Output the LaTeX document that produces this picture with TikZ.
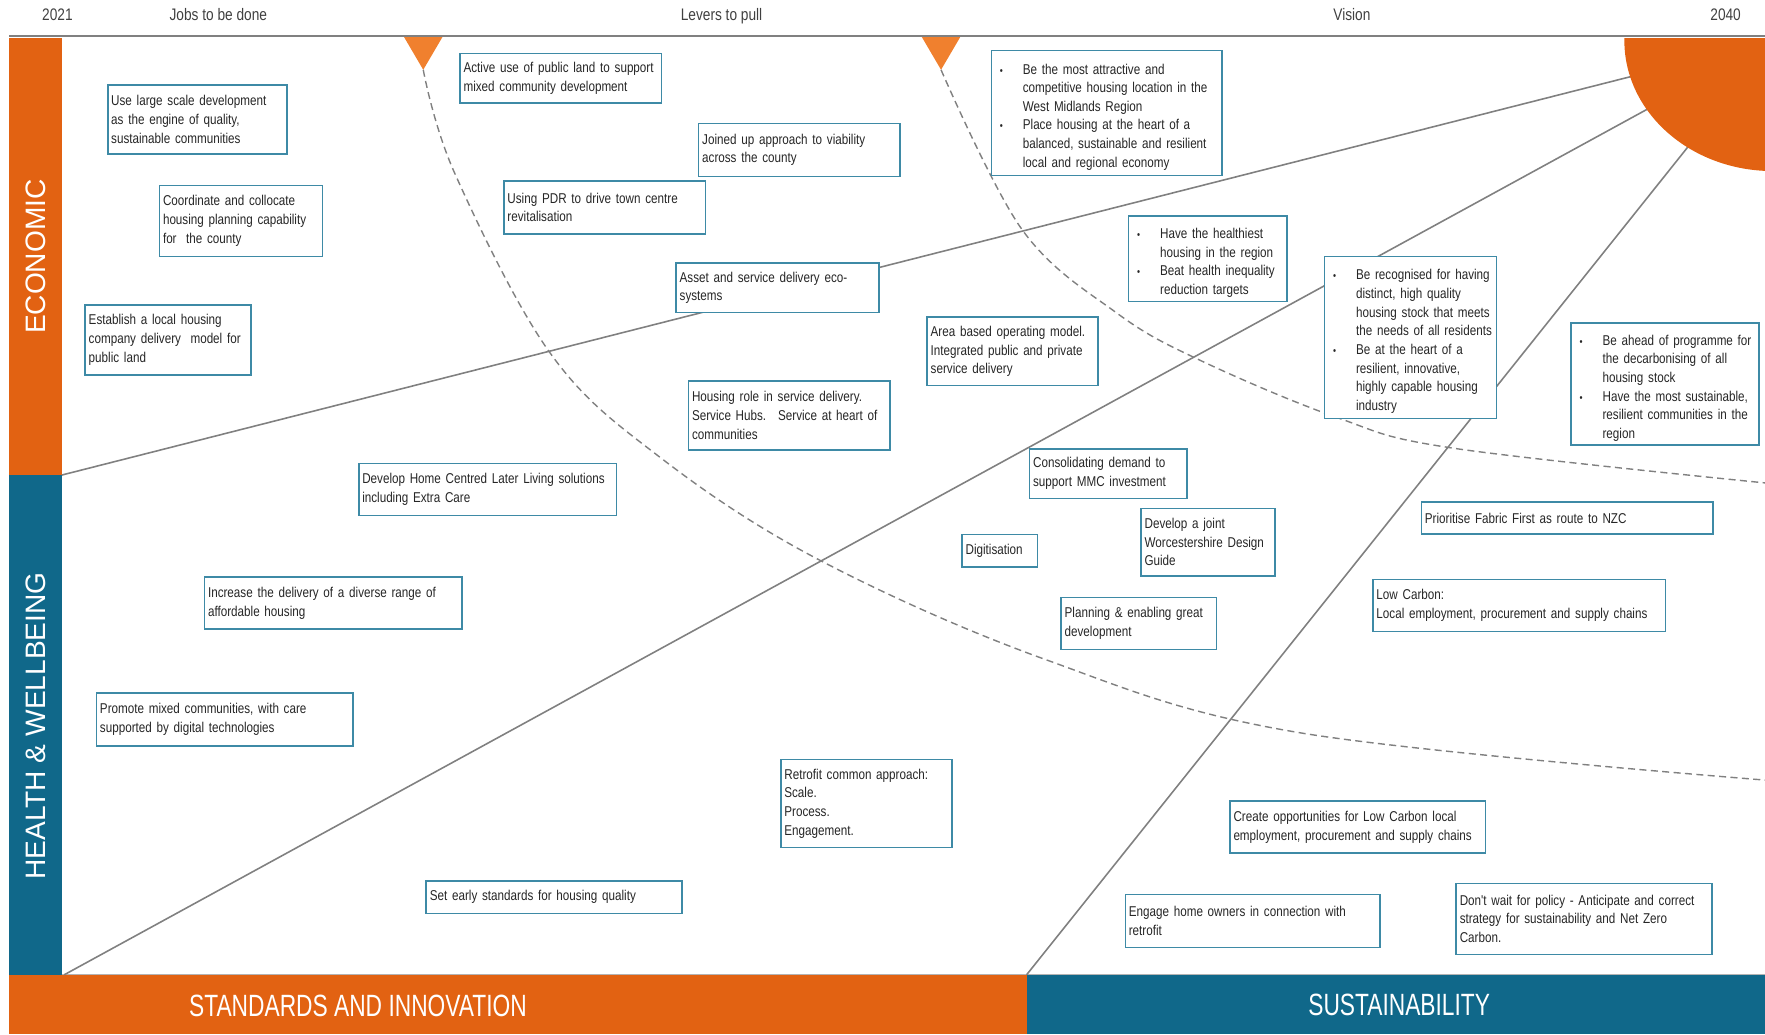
\documentclass[tikz,border=0pt]{standalone}
\usepackage{fontspec}
\setmainfont{Liberation Sans}
\newfontfamily\narrowfont{Liberation Sans}[FakeStretch=0.82]
\newfontfamily\condfont{Liberation Sans}[FakeStretch=0.74]
\usepackage{xcolor}
\usepackage{tikz}

\definecolor{wcorange}{RGB}{226,98,18}
\definecolor{wclight}{RGB}{240,128,46}
\definecolor{wcblue}{RGB}{16,104,138}
\definecolor{boxedge}{RGB}{62,138,166}
\definecolor{rayline}{RGB}{128,128,128}

% no hyphenation in the boxes
\hyphenpenalty=10000
\exhyphenpenalty=10000
\hbadness=10000
\hfuzz=6pt

% bulleted entry for the vision boxes
\newcommand{\vpoint}[1]{\par\noindent\hangindent=0.56cm\hangafter=1%
  \makebox[0.56cm][l]{\hspace{0.1cm}{\fontsize{6}{6}\selectfont\textbullet}}#1\par}

\begin{document}
\begin{tikzpicture}[x=0.0225cm, y=-0.0225cm,
    idea/.style={rectangle, draw=boxedge, line width=0.9pt, fill=white, anchor=north west,
                 align=left, inner xsep=0.07cm, inner ysep=0.05cm, text=black!85,
                 font=\narrowfont\fontsize{8.1}{10.6}\selectfont},
    ray/.style={draw=rayline, line width=0.9pt},
    horizon/.style={draw=rayline, line width=0.8pt, dash pattern=on 4pt off 2.5pt},
    phase/.style={anchor=base, font=\narrowfont\fontsize{9.5}{11}\selectfont, text=black!75},
    theme/.style={text=white, font=\fontsize{16}{16}\selectfont, rotate=90},
    pillar/.style={text=white, font=\condfont\fontsize{17.5}{18}\selectfont}]

\useasboundingbox (0,0) rectangle (1568,919);

% Timeline heading
\node[phase] (start) at (51,18) {2021};
\node[phase] (jobs) at (194,18) {Jobs to be done};
\node[phase] (levers) at (641,18) {Levers to pull};
\node[phase] (vision) at (1201,18) {Vision};
\node[phase] (finish) at (1533,18) {2040};
\draw[rayline, line width=1.1pt] (8,32) -- (1568,32);

% Side and bottom bands
\fill[wcorange] (8,34) rectangle (55,422);
\fill[wcblue] (8,422) rectangle (55,866);
\fill[wcorange] (8,866) rectangle (912,919);
\fill[wcblue] (912,866) rectangle (1568,919);
\draw[rayline!60, line width=0.5pt] (55,866) -- (1568,866);
\node[theme] (economic) at (32,228) {ECONOMIC};
\node[theme] (health) at (32,645) {HEALTH \& WELLBEING};
\node[pillar] (standards) at (318,894) {STANDARDS AND INNOVATION};
\node[pillar] (sustain) at (1243,893) {SUSTAINABILITY};

% Rays out of the 2040 sun
\coordinate (sun) at (1575,36);
\coordinate (econfoot) at (55,422);
\coordinate (healthfoot) at (57,866);
\coordinate (pillarfoot) at (912,866);
\draw[ray] (sun) -- (econfoot);
\draw[ray] (sun) -- (healthfoot);
\draw[ray] (sun) -- (pillarfoot);

\begin{scope}
  \clip (55,34) rectangle (1568,919);
  \fill[wcorange] (sun) ellipse [x radius=2.97cm, y radius=2.61cm];
\end{scope}

% Markers and horizons
\fill[wclight] (359,33) -- (393,33) -- (376,62) -- cycle;
\fill[wclight] (819,33) -- (853,33) -- (836,62) -- cycle;
\coordinate (tipa) at (376,62);
\coordinate (tipb) at (836,62);
\coordinate (edgea) at (1568,693);
\coordinate (edgeb) at (1568,429);
\draw[horizon] plot[smooth, tension=0.6] coordinates {(tipa) (404,154) (489,314) (586,406) (727,497) (929,586) (1155,651) (edgea)};
\draw[horizon] plot[smooth, tension=0.6] coordinates {(tipb) (908,204) (992,278) (1066,320) (1188,371) (1290,398) (edgeb)};

% Jobs to be done
\node[idea, text width=3.44cm, minimum height=1.37cm] (largescale) at (95,75) {Use large scale development\\as the engine of quality,\\sustainable communities};
\node[idea, text width=3.12cm, minimum height=1.42cm] (collocate) at (141,164) {Coordinate and collocate\\housing planning capability\\for~ the county};
\node[idea, text width=3.17cm, minimum height=1.40cm] (housingco) at (75,270) {Establish a local housing\\company delivery~ model for\\public land};
\node[idea, text width=5.01cm, minimum height=1.04cm] (laterliving) at (318,411) {Develop Home Centred Later Living solutions\\including Extra Care};
\node[idea, text width=5.01cm, minimum height=1.04cm] (affordable) at (181,512) {Increase the delivery of a diverse range of\\affordable housing};
\node[idea, text width=4.99cm, minimum height=1.06cm] (mixedcomm) at (85,615) {Promote mixed communities, with care\\supported by digital technologies};
\node[idea, text width=4.97cm, minimum height=0.65cm] (earlystd) at (378,782) {Set early standards for housing quality};

% Levers to pull
\node[idea, text width=3.89cm, minimum height=0.99cm] (publicland) at (408,47) {Active use of public land to support\\mixed community development};
\node[idea, text width=3.89cm, minimum height=1.06cm] (pdr) at (447,160) {Using PDR to drive town centre\\revitalisation};
\node[idea, text width=3.89cm, minimum height=1.06cm] (viability) at (620,109) {Joined up approach to viability\\across the county};
\node[idea, text width=3.91cm, minimum height=0.99cm] (ecosystems) at (600,233) {Asset and service delivery eco-\\systems};
\node[idea, text width=3.28cm, minimum height=1.37cm] (areabased) at (823,281) {Area based operating model.\\Integrated public and private\\service delivery};
\node[idea, text width=3.89cm, minimum height=1.37cm] (servicehubs) at (611,338) {Housing role in service delivery.\\Service Hubs.~ Service at heart of\\communities};
\node[idea, text width=3.01cm, minimum height=0.99cm] (mmc) at (914,398) {Consolidating demand to\\support MMC investment};
\node[idea, text width=2.54cm, minimum height=1.35cm] (designguide) at (1013,451) {Develop a joint\\Worcestershire Design\\Guide};
\node[idea, text width=1.37cm, minimum height=0.65cm] (digitisation) at (854,474) {Digitisation};
\node[idea, text width=2.97cm, minimum height=1.04cm] (planning) at (942,530) {Planning \& enabling great\\development};
\node[idea, text width=3.28cm, minimum height=1.76cm] (retrofit) at (693,674) {Retrofit common approach:\\Scale.\\Process.\\Engagement.};
\node[idea, text width=5.69cm, minimum height=0.65cm] (fabricfirst) at (1262,445) {Prioritise Fabric First as route to NZC};
\node[idea, text width=5.71cm, minimum height=1.04cm] (lowcarbon) at (1219,514) {Low Carbon:\\Local employment, procurement and supply chains};
\node[idea, text width=4.97cm, minimum height=1.04cm] (opportunities) at (1092,711) {Create opportunities for Low Carbon local\\employment, procurement and supply chains};
\node[idea, text width=4.95cm, minimum height=1.06cm] (homeowners) at (999,794) {Engage home owners in connection with\\retrofit};
\node[idea, text width=4.97cm, minimum height=1.42cm] (netzero) at (1293,784) {Don't wait for policy - Anticipate and correct\\strategy for sustainability and Net Zero\\Carbon.};

% Vision
\node[idea, text width=4.47cm, minimum height=2.50cm] (attractive) at (880,44) {%
  \vpoint{Be the most attractive and\newline competitive housing location in the\newline West Midlands Region}%
  \vpoint{Place housing at the heart of a\newline balanced, sustainable and resilient\newline local and regional economy}};
\node[idea, text width=3.03cm, minimum height=1.71cm] (healthiest) at (1002,191) {%
  \vpoint{Have the healthiest\newline housing in the region}%
  \vpoint{Beat health inequality\newline reduction targets}};
\node[idea, text width=3.30cm, minimum height=3.24cm] (recognised) at (1176,227) {%
  \vpoint{Be recognised for having\newline distinct, high quality\newline housing stock that meets\newline the~needs~of~all~residents}%
  \vpoint{Be at the heart of a\newline resilient, innovative,\newline highly capable housing\newline industry}};
\node[idea, text width=3.62cm, minimum height=2.45cm] (decarbon) at (1395,286) {%
  \vpoint{Be ahead of programme for\newline the decarbonising of all\newline housing stock}%
  \vpoint{Have the most sustainable,\newline resilient communities in the\newline region}};

\end{tikzpicture}
\end{document}
